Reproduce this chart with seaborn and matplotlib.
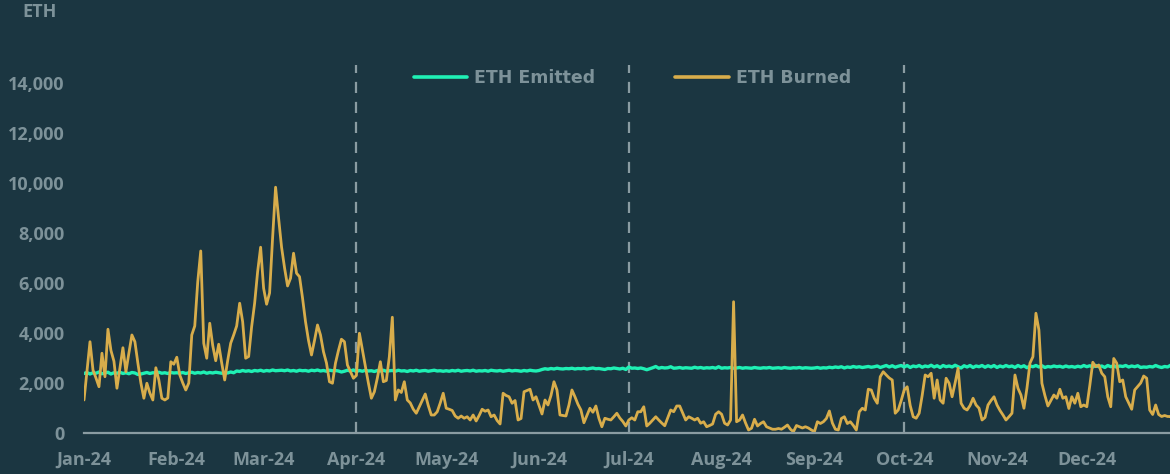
import numpy as np
import pandas as pd
import matplotlib
matplotlib.use("Agg")
import matplotlib.pyplot as plt
import matplotlib.dates as mdates
import seaborn as sns

# daily ETH burned, one list per month (2024)
burned_jan = [1320, 2500, 3650, 2520, 2200, 1850, 3190, 2250, 4150, 3300, 2870, 1790, 2600, 3410, 2450, 3200,
              3920, 3650, 2790, 2000, 1390, 1990, 1600, 1320, 2610, 2120, 1390, 1320, 1400, 2850, 2750]
burned_feb = [3030, 2320, 2000, 1720, 2000, 3920, 4280, 6050, 7280, 3590, 2990, 4390, 3500, 2890, 3550,
              2800, 2120, 2900, 3590, 3920, 4280, 5190, 4450, 2990, 3060, 4250, 5190, 6450, 7430]
burned_mar = [5790, 5150, 5600, 7800, 9830, 8600, 7430, 6600, 5880, 6190, 7190, 6390, 6250, 5400, 4450, 3700,
              3120, 3700, 4320, 3920, 3250, 2800, 2050, 1990, 2790, 3300, 3750, 3650, 2720, 2450, 2190]
burned_apr = [2300, 3990, 3320, 2650, 2000, 1390, 1650, 2200, 2850, 2050, 2100, 3050, 4630, 1320, 1720,
              1620, 2050, 1320, 1200, 950, 790, 1050, 1300, 1560, 1100, 720, 720, 850, 1200, 1590]
burned_may = [990, 950, 900, 680, 590, 680, 590, 650, 520, 720, 480, 700, 950, 870, 920, 650,
              720, 500, 360, 1590, 1500, 1450, 1190, 1300, 520, 580, 1650, 1700, 1750, 1320, 1450]
burned_jun = [1100, 760, 1320, 1120, 1500, 2050, 1720, 720, 700, 680, 1120, 1720, 1450, 1150, 920,
              410, 700, 990, 830, 1080, 590, 250, 590, 550, 520, 650, 790, 600, 460, 280]
burned_jul = [520, 610, 520, 850, 850, 1050, 280, 390, 520, 650, 520, 400, 290, 600, 920, 850,
              1080, 1080, 800, 520, 650, 590, 520, 590, 390, 450, 250, 300, 360, 750, 850]
burned_aug = [750, 390, 320, 520, 5250, 450, 520, 720, 400, 120, 190, 550, 280, 380, 450, 250,
              200, 150, 150, 180, 150, 230, 320, 150, 50, 300, 250, 200, 250, 200, 120]
burned_sep = [50, 450, 380, 450, 580, 880, 400, 150, 120, 580, 650, 380, 450, 300, 120,
              850, 990, 920, 1750, 1720, 1390, 1190, 2250, 2450, 2320, 2200, 2120, 790, 920, 1300]
burned_oct = [1720, 1850, 1100, 650, 590, 790, 1500, 2320, 2250, 2390, 1390, 2120, 1320, 1190, 2190, 1990,
              1450, 2000, 2590, 1190, 990, 920, 1100, 1390, 1120, 990, 520, 620, 1120, 1300, 1450]
burned_nov = [1120, 900, 720, 520, 650, 790, 2320, 1790, 1520, 990, 1790, 2790, 3050, 4790, 4120,
              1990, 1500, 1080, 1300, 1520, 1390, 1750, 1390, 1450, 980, 1450, 1190, 1590, 1050, 1120]
burned_dec = [1050, 1900, 2830, 2650, 2720, 2390, 2250, 1450, 1050, 2980, 2790, 2050, 2120, 1450, 1200, 950,
              1720, 1860, 2000, 2280, 2190, 920, 740, 1120, 740, 660, 700, 660, 660, 490, 450]

# daily ETH emitted
emitted_jan = [2380, 2420, 2360, 2410, 2390, 2440, 2370, 2400, 2430, 2360, 2410, 2390, 2430, 2380, 2410, 2370,
               2420, 2400, 2340, 2360, 2390, 2420, 2380, 2410, 2400, 2430, 2390, 2410, 2380, 2420, 2400]
emitted_feb = [2410, 2390, 2420, 2380, 2410, 2430, 2390, 2420, 2400, 2440, 2390, 2420, 2400, 2430, 2410,
               2390, 2420, 2400, 2440, 2410, 2480, 2460, 2500, 2470, 2490, 2460, 2500, 2480, 2510]
emitted_mar = [2470, 2500, 2480, 2520, 2490, np.nan, 2510, 2490, 2520, 2480, 2500, 2470, 2510, 2490, 2500, 2470,
               2510, 2490, 2520, 2480, 2500, 2470, 2510, 2490, 2500, 2480, 2440, 2470, 2510, 2480, 2520]
emitted_apr = [2460, 2500, 2470, 2510, 2480, 2490, 2460, 2500, 2480, 2510, 2470, 2490, 2500, 2470, 2510,
               2480, 2490, 2460, 2500, 2480, 2510, 2470, 2490, 2500, 2470, 2490, 2510, 2480, 2490, 2470]
emitted_may = [2490, 2470, 2500, 2480, 2510, 2470, 2490, 2500, 2480, 2510, 2470, 2490, 2480, 2500, 2470, 2510,
               2490, 2480, 2500, 2470, 2490, 2510, 2480, 2500, 2490, 2470, 2500, 2480, 2510, 2490, 2480]
emitted_jun = [2500, 2540, 2570, 2550, 2580, 2560, 2590, 2570, 2560, 2580, 2570, 2590, 2560, 2580, 2570,
               2590, 2560, 2580, 2600, 2570, 2580, 2560, 2540, 2580, 2570, 2600, 2580, 2560, 2590, 2540]
emitted_jul = [2640, 2590, 2600, 2580, 2600, 2570, 2530, 2570, 2610, 2660, 2590, 2620, 2600, 2610, 2650, 2590,
               2600, 2620, 2590, 2610, 2600, 2590, 2630, 2600, 2620, 2590, 2610, 2600, 2620, 2590, 2650]
emitted_aug = [2590, 2610, 2600, 2620, 2590, 2600, 2620, 2590, 2610, 2600, 2590, 2620, 2600, 2590, 2610, 2600,
               2620, 2590, 2600, 2610, 2590, 2620, 2600, 2590, 2610, 2600, 2620, 2590, 2610, 2600, 2590]
emitted_sep = [2600, 2620, 2590, 2610, 2600, 2630, 2610, 2640, 2620, 2650, 2600, 2640, 2620, 2660, 2630,
               2650, 2620, 2640, 2660, 2630, 2650, 2680, 2620, 2660, 2700, 2640, 2690, 2630, 2670, 2700]
emitted_oct = [2640, 2700, 2620, 2680, 2650, 2700, 2630, 2680, 2650, 2710, 2640, 2690, 2620, 2700, 2650, 2680,
               2640, 2710, 2650, 2600, 2690, 2640, 2700, 2620, 2680, 2650, 2700, 2630, 2690, 2640, 2700]
emitted_nov = [2620, 2680, 2640, 2700, 2650, 2680, 2620, 2700, 2640, 2690, 2610, 2680, 2650, 2700, 2640,
               2690, 2620, 2660, 2640, 2680, 2650, 2670, 2630, 2680, 2640, 2660, 2630, 2670, 2640, 2700]
emitted_dec = [2650, 2690, 2640, 2700, 2650, 2680, 2620, 2700, 2650, 2690, 2630, 2680, 2660, 2700, 2640, 2680,
               2650, 2690, 2620, 2640, 2630, 2660, 2640, 2700, 2650, 2620, 2660, 2640, 2710, 2650, 2680]

quarter_marks = ["2024-04-01", "2024-07-01", "2024-10-01"]

burned = (burned_jan + burned_feb + burned_mar + burned_apr + burned_may + burned_jun +
          burned_jul + burned_aug + burned_sep + burned_oct + burned_nov + burned_dec)
emitted = (emitted_jan + emitted_feb + emitted_mar + emitted_apr + emitted_may + emitted_jun +
           emitted_jul + emitted_aug + emitted_sep + emitted_oct + emitted_nov + emitted_dec)
dates = pd.date_range("2024-01-01", periods=len(burned), freq="D")

df = pd.concat([
    pd.DataFrame({"date": dates, "ETH": emitted, "series": "ETH Emitted"}),
    pd.DataFrame({"date": dates, "ETH": burned, "series": "ETH Burned"}),
], ignore_index=True)

bg = "#1b3641"
grey = "#7d9299"
sns.set_theme(style="white")
plt.rcParams["font.family"] = ["Open Sans", "DejaVu Sans"]

fig = plt.figure(figsize=(11.7, 4.74), dpi=100, facecolor=bg)
ax = fig.add_axes([0.0718, 0.0865, 0.9282, 0.7765])
ax.set_facecolor(bg)

sns.lineplot(data=df, x="date", y="ETH", hue="series",
             hue_order=["ETH Emitted", "ETH Burned"],
             palette={"ETH Emitted": "#1ff0b4", "ETH Burned": "#d8ad4b"},
             linewidth=2.0, ax=ax)
ax.get_lines()[0].set_linewidth(2.4)

for q in quarter_marks:
    ax.axvline(pd.Timestamp(q), color="#8a9ca2", lw=1.6, dashes=(5, 4), zorder=0)

# the original axis stops a few days before year end
ax.set_xlim(pd.Timestamp("2024-01-01"), pd.Timestamp("2024-12-28 19:00"))
ax.set_ylim(0, 14720)
ax.set_yticks(range(0, 14001, 2000))
ax.yaxis.set_major_formatter(matplotlib.ticker.FuncFormatter(lambda v, p: f"{int(v):,}"))
ax.xaxis.set_major_locator(mdates.MonthLocator())
ax.xaxis.set_major_formatter(mdates.DateFormatter("%b-%y"))

for s in ["top", "right", "left"]:
    ax.spines[s].set_visible(False)
ax.spines["bottom"].set_color("#8a9ca2")
ax.spines["bottom"].set_linewidth(1.6)
ax.tick_params(axis="x", colors="#8a9ca2", length=4, width=1.6, pad=9,
               labelsize=13, labelcolor=grey)
ax.tick_params(axis="y", length=0, pad=14, labelsize=13, labelcolor=grey)
for lab in ax.get_xticklabels() + ax.get_yticklabels():
    lab.set_fontweight("bold")
ax.set_xlabel("")
ax.set_ylabel("")

leg = ax.legend(loc="center", bbox_to_anchor=(0.505, 0.965), ncol=2, frameon=False,
                handlelength=3.1, handletextpad=0.4, columnspacing=4.6,
                prop={"family": "DejaVu Sans", "size": 12.5, "weight": "bold"})
for t in leg.get_texts():
    t.set_color(grey)
for h in leg.get_lines():
    h.set_linewidth(2.6)

fig.text(0.019, 0.993, "ETH", color=grey, fontsize=13, fontweight="bold", va="top", ha="left")

fig.savefig("out.png", dpi=100, facecolor=bg)
